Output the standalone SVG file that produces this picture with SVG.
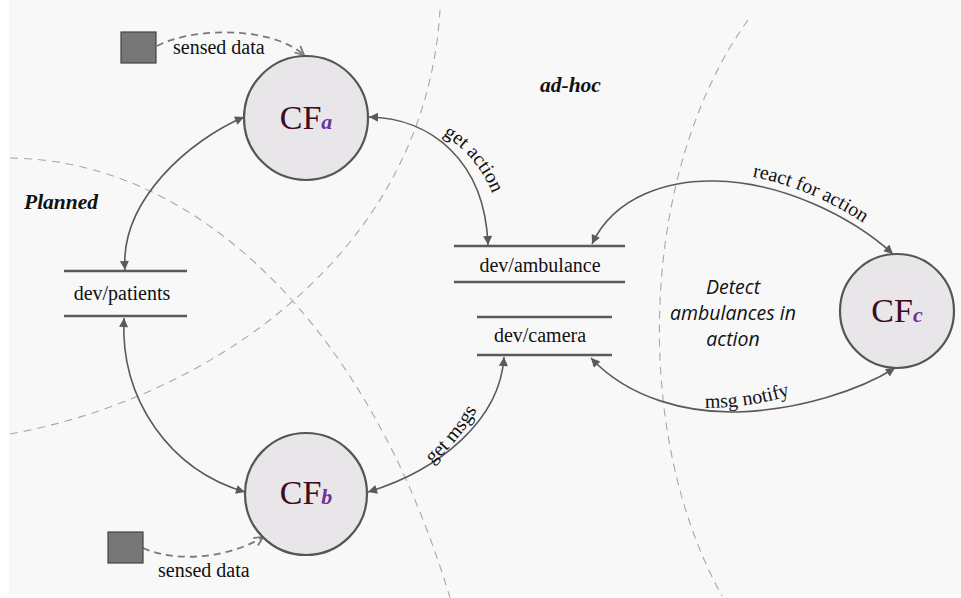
<svg xmlns="http://www.w3.org/2000/svg" width="961" height="598" viewBox="0 0 961 598">
<defs>
<style>
.zone{fill:none;stroke:#a8a8a8;stroke-width:1.1;stroke-dasharray:8 6}
.conn{fill:none;stroke:#5a5a5a;stroke-width:1.6}
.sense{fill:none;stroke:#7a7a7a;stroke-width:1.8;stroke-dasharray:7 5}
.cf{fill:#e8e6e8;stroke:#555;stroke-width:2.2}
.bar{stroke:#5a5a5a;stroke-width:2.6}
.lbl{font-family:"Liberation Serif","Times New Roman",serif;font-size:20px;fill:#111}
.cfl{font-family:"Liberation Serif","Times New Roman",serif;font-size:34px;fill:#3d0c1f}
.sub{font-size:22px;font-style:italic;font-weight:bold;fill:#7030a0}
.zlbl{font-family:"Liberation Serif","Times New Roman",serif;font-size:21.5px;font-style:italic;font-weight:bold;fill:#111}
.note{font-family:"Open Sans","Noto Sans",sans-serif;font-size:19.5px;font-style:italic;fill:#111}
.sq{fill:#777;stroke:#444;stroke-width:1.2}
</style>
<marker id="ah" viewBox="0 0 10 10" refX="10" refY="5" markerWidth="12" markerHeight="9" markerUnits="userSpaceOnUse" orient="auto-start-reverse">
<path d="M0,0 L10,5 L0,10 Z" fill="#5a5a5a"/>
</marker>
<marker id="oh" viewBox="0 0 10 10" refX="9" refY="5" markerWidth="11" markerHeight="11" markerUnits="userSpaceOnUse" orient="auto">
<path d="M1,1 L9,5 L1,9" fill="none" stroke="#7a7a7a" stroke-width="1.6"/>
</marker>
<path id="tpA" d="M430,129 C460,141 486,168 497,207"/>
<path id="tpB" d="M412,478 C440,462 470,430 488,388"/>
<path id="tpC" d="M715,173 C780,174 850,207 893,246"/>
<path id="tpD" d="M705,408 C740,408 775,402 805,390"/>
</defs>
<rect x="9" y="0" width="952" height="595" fill="#f8f8f8"/>

<g id="zones">
<path class="zone" d="M10,158 C200,160 370,330 450,598"/>
<path class="zone" d="M10,434 C200,400 425,260 440,10"/>
<path class="zone" d="M748,20 C640,170 630,430 722,596"/>
<text class="zlbl" x="24" y="209">Planned</text>
<text class="zlbl" x="540" y="92">ad-hoc</text>
<text class="note" text-anchor="middle"><tspan x="733" y="294">Detect</tspan><tspan x="733" y="320">ambulances in</tspan><tspan x="733" y="346">action</tspan></text>
</g>

<g id="connectors">
<path class="conn" d="M244,117 C190,140 120,200 125,270" marker-start="url(#ah)" marker-end="url(#ah)"/>
<path class="conn" d="M124,318 C120,400 170,470 245,492" marker-start="url(#ah)" marker-end="url(#ah)"/>
<path class="conn" d="M369,117 C430,118 485,160 488,245" marker-start="url(#ah)" marker-end="url(#ah)"/>
<path class="conn" d="M368,492 C440,470 500,420 504,357" marker-start="url(#ah)" marker-end="url(#ah)"/>
<path class="conn" d="M592,244 C615,195 670,180 715,181 C780,182 850,215 893,254" marker-start="url(#ah)" marker-end="url(#ah)"/>
<path class="conn" d="M591,358 C630,400 690,413 737,412 C800,410 860,390 895,368" marker-start="url(#ah)" marker-end="url(#ah)"/>
<path class="sense" d="M157,46 C190,28 270,25 304,55" marker-end="url(#oh)"/>
<path class="sense" d="M143,548 C180,565 235,555 263,537" marker-end="url(#oh)"/>
<text class="lbl"><textPath href="#tpA" startOffset="50%" text-anchor="middle">get action</textPath></text>
<text class="lbl"><textPath href="#tpB" startOffset="50%" text-anchor="middle">get msgs</textPath></text>
<text class="lbl"><textPath href="#tpC" startOffset="50%" text-anchor="middle">react for action</textPath></text>
<text class="lbl"><textPath href="#tpD" startOffset="0">msg notify</textPath></text>
<text class="lbl" x="173" y="54">sensed data</text>
<text class="lbl" x="158" y="577">sensed data</text>
</g>

<g id="sensor-a"><rect class="sq" x="121" y="32" width="35" height="31"/></g>
<g id="sensor-b"><rect class="sq" x="108" y="532" width="35" height="31"/></g>

<g id="cf-a">
<circle class="cf" cx="306" cy="118" r="62"/>
<text class="cfl" x="306" y="129" text-anchor="middle">CF<tspan class="sub">a</tspan></text>
</g>
<g id="cf-b">
<circle class="cf" cx="306" cy="494" r="61"/>
<text class="cfl" x="306" y="504" text-anchor="middle">CF<tspan class="sub">b</tspan></text>
</g>
<g id="cf-c">
<circle class="cf" cx="897" cy="311" r="57"/>
<text class="cfl" x="897" y="322" text-anchor="middle">CF<tspan class="sub">c</tspan></text>
</g>

<g id="dev-patients">
<line class="bar" x1="64" y1="271" x2="187" y2="271"/>
<line class="bar" x1="64" y1="316" x2="187" y2="316"/>
<text class="lbl" x="122" y="300" text-anchor="middle">dev/patients</text>
</g>
<g id="dev-ambulance">
<line class="bar" x1="454" y1="246" x2="625" y2="246"/>
<line class="bar" x1="454" y1="282" x2="625" y2="282"/>
<text class="lbl" x="540" y="272" text-anchor="middle">dev/ambulance</text>
</g>
<g id="dev-camera">
<line class="bar" x1="477" y1="317" x2="612" y2="317"/>
<line class="bar" x1="477" y1="355" x2="612" y2="355"/>
<text class="lbl" x="540" y="342" text-anchor="middle">dev/camera</text>
</g>
</svg>
